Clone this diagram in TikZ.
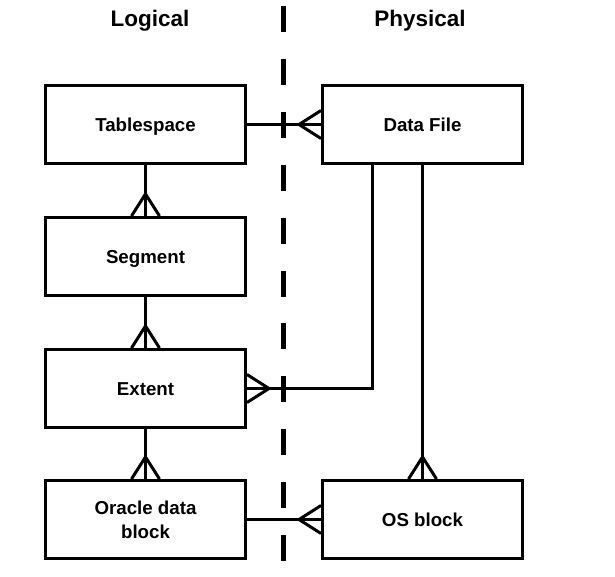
\documentclass[tikz,border=0pt]{standalone}
\usepackage{fontspec}
\setmainfont{Liberation Sans}
\usetikzlibrary{calc}
\tikzset{
  ent/.style={draw, line width=3pt, minimum width=200pt, minimum height=78pt, inner sep=0pt,
    font=\bfseries\fontsize{18.7}{24}\selectfont, align=center},
  one/.style={text height=13.5pt, text depth=0pt},
  ttl/.style={font=\bfseries\fontsize{22.5}{27}\selectfont, inner sep=0pt, text height=16pt, text depth=0pt},
  conn/.style={line width=3pt},
  divider/.style={line width=5pt, dash pattern=on 26pt off 26.9pt}
}
\newcommand\crowN[1]{\draw[conn] ($(#1)+(-14,0)$) -- ($(#1)+(0,-22)$) -- ($(#1)+(14,0)$);}
\newcommand\crowW[1]{\draw[conn] ($(#1)+(0,-14)$) -- ($(#1)+(-22,0)$) -- ($(#1)+(0,14)$);}
\newcommand\crowE[1]{\draw[conn] ($(#1)+(0,-14)$) -- ($(#1)+(22,0)$) -- ($(#1)+(0,14)$);}
\begin{document}
\begin{tikzpicture}[x=1pt,y=-1pt]
\useasboundingbox (0,0) rectangle (615,577);
\fill[white] (0,0) rectangle (615,577);
\node[ttl] (lt) at (150,19) {Logical};
\node[ttl] (pt) at (420,19) {Physical};
\coordinate (dtop) at (283.5,6);
\coordinate (dbot) at (283.5,561);
\draw[divider] (dtop) -- (dbot);
\node[ent,one] (ts) at (145.5,124.5) {Tablespace};
\node[ent,one] (df) at (422.5,124.5) {Data File};
\node[ent,one] (sg) at (145.5,256.5) {Segment};
\node[ent,one] (ex) at (145.5,388.5) {Extent};
\node[ent] (ob) at (145.5,519.5) {Oracle data\\block};
\node[ent,one] (os) at (422.5,519.5) {OS block};
% connectors
\draw[conn] (ts.east) -- (df.west);
\crowW{df.west}
\draw[conn] (ts.south) -- (sg.north);
\crowN{sg.north}
\draw[conn] (sg.south) -- (ex.north);
\crowN{ex.north}
\draw[conn] (ex.south) -- (ob.north);
\crowN{ob.north}
\draw[conn] ($(df.south)+(-50,0)$) |- (ex.east);
\crowE{ex.east}
\draw[conn] (df.south) -- (os.north);
\crowN{os.north}
\draw[conn] (ob.east) -- (os.west);
\crowW{os.west}
\end{tikzpicture}
\end{document}
